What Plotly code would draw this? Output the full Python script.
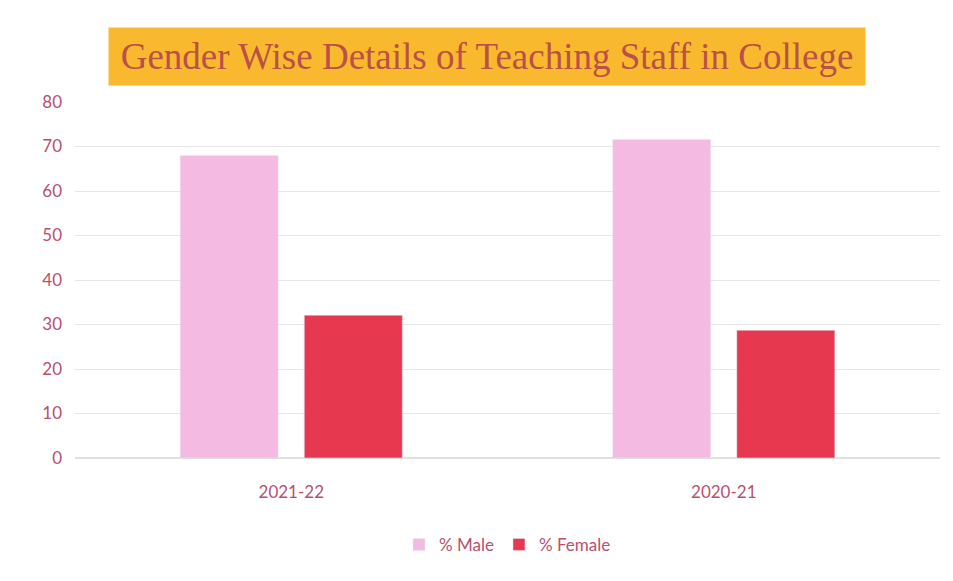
import plotly.graph_objects as go

# values
years = ['2021-22', '2020-21']
male_pct = [68, 71.6]
female_pct = [32.1, 28.7]

tick_color = '#B8506E'

fig = go.Figure()
fig.add_bar(x=years, y=male_pct, name='% Male', marker_color='#F5BAE2')
fig.add_bar(x=years, y=female_pct, name='% Female', marker_color='#E6384F')

# page body adds an 8px offset, margins account for it
fig.update_layout(
    width=953, height=581,
    margin=dict(l=67, r=21, t=94, b=131, autoexpand=False),
    paper_bgcolor='white', plot_bgcolor='white',
    barmode='group', bargap=0.426, bargroupgap=0.21,
    font=dict(family='Lato, Open Sans, sans-serif', size=16, color=tick_color),
    showlegend=True,
    legend=dict(orientation='h', x=0.5, xanchor='center', y=-0.244, yanchor='middle',
                font=dict(size=17, color=tick_color), itemwidth=30),
)

fig.update_yaxes(range=[0, 80], dtick=10, showgrid=True, gridcolor='#E6E6E6',
                 zeroline=True, zerolinecolor='#E0E0E0', tickfont=dict(size=17, color=tick_color),
                 ticks='', ticklabelstandoff=12, automargin=False)
fig.update_xaxes(showline=True, linecolor='#E0E0E0', tickfont=dict(size=17, color=tick_color),
                 ticklabelstandoff=19, automargin=False)

# title in an orange box
fig.add_annotation(
    text='Gender Wise Details of Teaching Staff in College',
    xref='paper', yref='paper', x=0.476, y=1.0, yanchor='bottom', yshift=16,
    showarrow=False, bgcolor='#F9B92E', borderpad=7, width=742, height=43,
    font=dict(family='Liberation Serif, Times New Roman, serif', size=37, color='#BA5048'),
)

fig.write_html('out.html')
